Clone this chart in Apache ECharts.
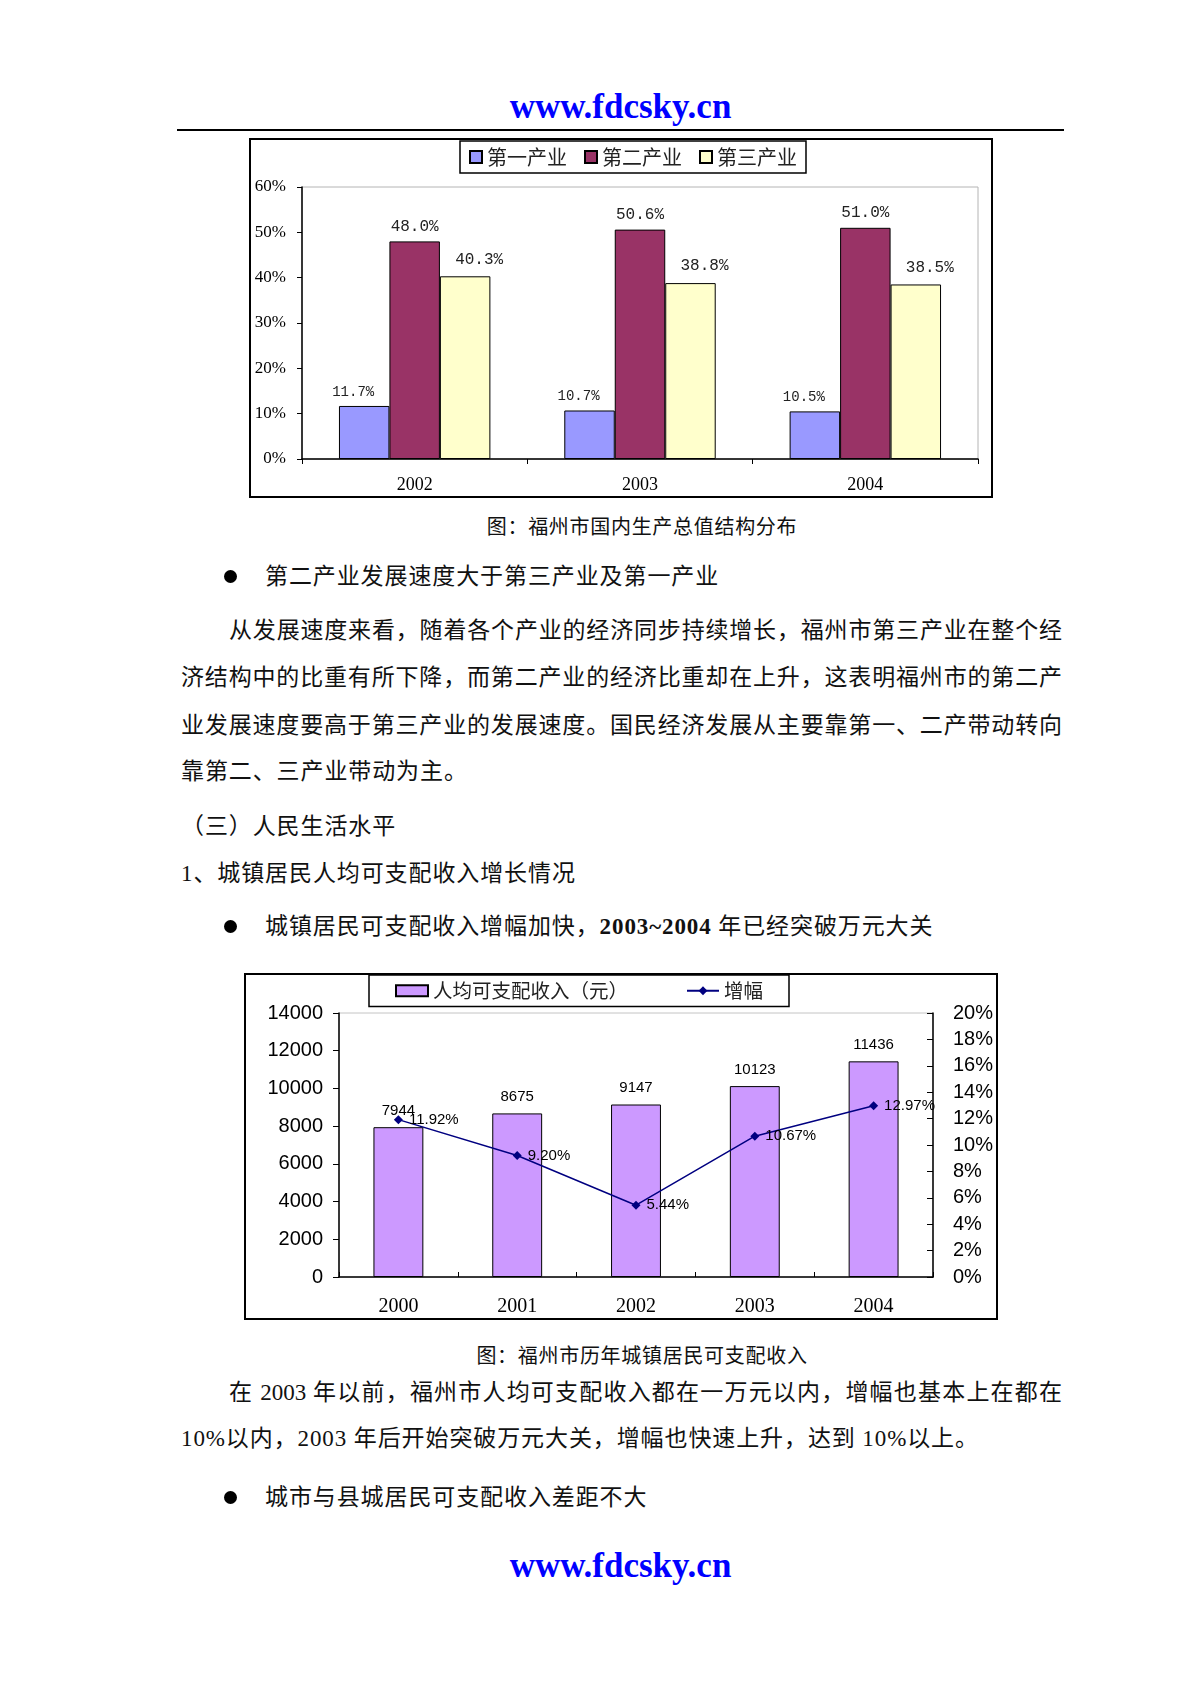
<!DOCTYPE html>
<html><head><meta charset="utf-8">
<script src="https://cdn.jsdelivr.net/npm/echarts@6/dist/echarts.min.js"></script>
<style>
body{margin:0;background:#fff;width:1191px;height:1685px;position:relative;overflow:hidden;font-family:"Liberation Serif","Noto Sans CJK SC",serif;color:#111}
.t{position:absolute;white-space:nowrap;font-size:23px;line-height:30px;height:30px;letter-spacing:0.9px}
.j{text-align:justify;text-align-last:justify;letter-spacing:0}
.cap{position:absolute;left:342px;width:600px;text-align:center;font-size:20px;line-height:30px;letter-spacing:0.7px;white-space:nowrap}
.site{position:absolute;left:0;width:1241px;text-align:center;font-family:"Liberation Serif";font-weight:bold;font-size:35px;color:#0000ff;line-height:40px}
.dot{position:absolute;width:13px;height:13px;border-radius:50%;background:#000}
.box{position:absolute;border:2px solid #000;box-sizing:border-box;background:#fff}
.chart{position:absolute;left:0;top:0;width:100%;height:100%}
</style></head>
<body>
<div class="site" style="top:87px">www.fdcsky.cn</div>
<div style="position:absolute;left:177px;top:129px;width:887px;height:1.5px;background:#000"></div>

<div class="box" style="left:249px;top:138px;width:744px;height:360px"><div id="c1" class="chart"></div></div>
<div class="cap" style="top:512px">图：福州市国内生产总值结构分布</div>

<div class="dot" style="left:224px;top:570px"></div>
<div class="t" style="left:265px;top:562px">第二产业发展速度大于第三产业及第一产业</div>
<div class="t j" style="left:229px;top:616px;width:833px">从发展速度来看，随着各个产业的经济同步持续增长，福州市第三产业在整个经</div>
<div class="t j" style="left:181px;top:663px;width:881px">济结构中的比重有所下降，而第二产业的经济比重却在上升，这表明福州市的第二产</div>
<div class="t j" style="left:181px;top:711px;width:881px">业发展速度要高于第三产业的发展速度。国民经济发展从主要靠第一、二产带动转向</div>
<div class="t" style="left:181px;top:757px">靠第二、三产业带动为主。</div>
<div class="t" style="left:181px;top:812px">（三）人民生活水平</div>
<div class="t" style="left:181px;top:859px">1、城镇居民人均可支配收入增长情况</div>
<div class="dot" style="left:224px;top:920px"></div>
<div class="t" style="left:265px;top:912px">城镇居民可支配收入增幅加快，<b>2003~2004</b> 年已经突破万元大关</div>

<div class="box" style="left:244px;top:973px;width:754px;height:347px"><div id="c2" class="chart"></div></div>
<div class="cap" style="top:1341px">图：福州市历年城镇居民可支配收入</div>

<div class="t j" style="left:229px;top:1378px;width:833px">在 2003 年以前，福州市人均可支配收入都在一万元以内，增幅也基本上在都在</div>
<div class="t" style="left:181px;top:1424px">10%以内，2003 年后开始突破万元大关，增幅也快速上升，达到 10%以上。</div>
<div class="dot" style="left:224px;top:1491px"></div>
<div class="t" style="left:265px;top:1483px">城市与县城居民可支配收入差距不大</div>

<div class="site" style="top:1546px">www.fdcsky.cn</div>

<script>
// ---- Chart 1 data ----
const years1 = ['2002', '2003', '2004'];
const seriesNames1 = ['第一产业', '第二产业', '第三产业'];
const primary = [11.7, 10.7, 10.5];
const secondary = [48.0, 50.6, 51.0];
const tertiary = [40.3, 38.8, 38.5];

// ---- Chart 2 data ----
const years2 = ['2000', '2001', '2002', '2003', '2004'];
const incomeName = '人均可支配收入（元）';
const growthName = '增幅';
const income = [7944, 8675, 9147, 10123, 11436];
const growth = [11.92, 9.20, 5.44, 10.67, 12.97];

const CJK = 'Noto Sans CJK SC';
const SERIF = 'Liberation Serif';
const SANS = 'Liberation Sans';
const MONO = 'Liberation Mono';

const c1 = echarts.init(document.getElementById('c1'));
const colors1 = ['#9999FF', '#993366', '#FFFFCC'];
const data1 = [primary, secondary, tertiary];
const labelOffsets = [[-11, 0], [0, 0], [14, -2]];
const labelSizes = [14, 16, 16];
c1.setOption({
  animation: false,
  grid: {left: 51, right: 13, top: 47, bottom: 37, show: true, borderColor: '#b4b4b4', borderWidth: 1, containLabel: false, outerBoundsMode: 'none'},
  legend: {
    left: 209, top: 1, padding: [6, 9], itemGap: 17, itemWidth: 12, itemHeight: 12,
    icon: 'rect', borderColor: '#000', borderWidth: 1.5, backgroundColor: '#fff',
    textStyle: {fontFamily: CJK, fontSize: 20, color: '#222'},
    data: seriesNames1
  },
  xAxis: {
    type: 'category', data: years1,
    axisLine: {lineStyle: {color: '#000', width: 1.5}},
    axisTick: {show: true, length: 5, lineStyle: {color: '#000'}},
    axisLabel: {fontFamily: SERIF, fontSize: 18, color: '#000', margin: 17}
  },
  yAxis: {
    type: 'value', min: 0, max: 60, interval: 10,
    axisLine: {show: true, lineStyle: {color: '#000', width: 1.5}},
    axisTick: {show: true, length: 5, lineStyle: {color: '#000'}},
    splitLine: {show: false},
    axisLabel: {formatter: '{value}%', fontFamily: SERIF, fontSize: 17, color: '#000', margin: 16}
  },
  series: seriesNames1.map((n, i) => ({
    name: n, type: 'bar', data: data1[i],
    barWidth: '22.4%', barGap: '0%',
    itemStyle: {color: colors1[i], borderColor: '#000', borderWidth: 1},
    label: {
      show: true, position: 'top', distance: 7, offset: labelOffsets[i],
      formatter: p => p.value.toFixed(1) + '%',
      fontFamily: MONO, fontSize: labelSizes[i], color: '#222'
    }
  }))
});

const c2 = echarts.init(document.getElementById('c2'));
c2.setOption({
  animation: false,
  grid: {left: 93, right: 63, top: 38, bottom: 41, show: true, borderColor: '#c4c4c4', borderWidth: 1, containLabel: false, outerBoundsMode: 'none'},
  legend: {
    left: 123, top: 0, padding: [6, 26], itemGap: 58, itemWidth: 32, itemHeight: 11,
    borderColor: '#000', borderWidth: 1.5, backgroundColor: '#fff',
    textStyle: {fontFamily: CJK, fontSize: 19.5, color: '#222'},
    data: [{name: incomeName, icon: 'rect'}, {name: growthName}]
  },
  xAxis: {
    type: 'category', data: years2,
    axisLine: {lineStyle: {color: '#000', width: 1.5}},
    axisTick: {show: true, inside: true, length: 5, lineStyle: {color: '#000'}},
    axisLabel: {fontFamily: SERIF, fontSize: 20, color: '#000', margin: 20}
  },
  yAxis: [{
    type: 'value', min: 0, max: 14000, interval: 2000,
    axisLine: {show: true, lineStyle: {color: '#000', width: 1.5}},
    axisTick: {show: true, length: 6, lineStyle: {color: '#000'}},
    splitLine: {show: false},
    axisLabel: {formatter: v => String(v), fontFamily: SANS, fontSize: 20, color: '#000', margin: 16}
  }, {
    type: 'value', position: 'right', min: 0, max: 20, interval: 2,
    axisLine: {show: true, lineStyle: {color: '#000', width: 1.5}},
    axisTick: {show: true, inside: true, length: 6, lineStyle: {color: '#000'}},
    splitLine: {show: false},
    axisLabel: {formatter: '{value}%', fontFamily: SANS, fontSize: 20, color: '#000', margin: 20}
  }],
  series: [{
    name: incomeName, type: 'bar', data: income, barWidth: '42%',
    itemStyle: {color: '#CC99FF', borderColor: '#000', borderWidth: 1},
    label: {show: true, position: 'top', distance: 9, fontFamily: SANS, fontSize: 15, color: '#000'}
  }, {
    name: growthName, type: 'line', yAxisIndex: 1, data: growth,
    symbol: 'diamond', symbolSize: 9,
    lineStyle: {color: '#000080', width: 1.5},
    itemStyle: {color: '#000080'},
    label: {show: true, position: 'right', distance: 6, formatter: p => p.value.toFixed(2) + '%', fontFamily: SANS, fontSize: 15, color: '#000'},
    z: 5
  }]
});
</script>
</body></html>
